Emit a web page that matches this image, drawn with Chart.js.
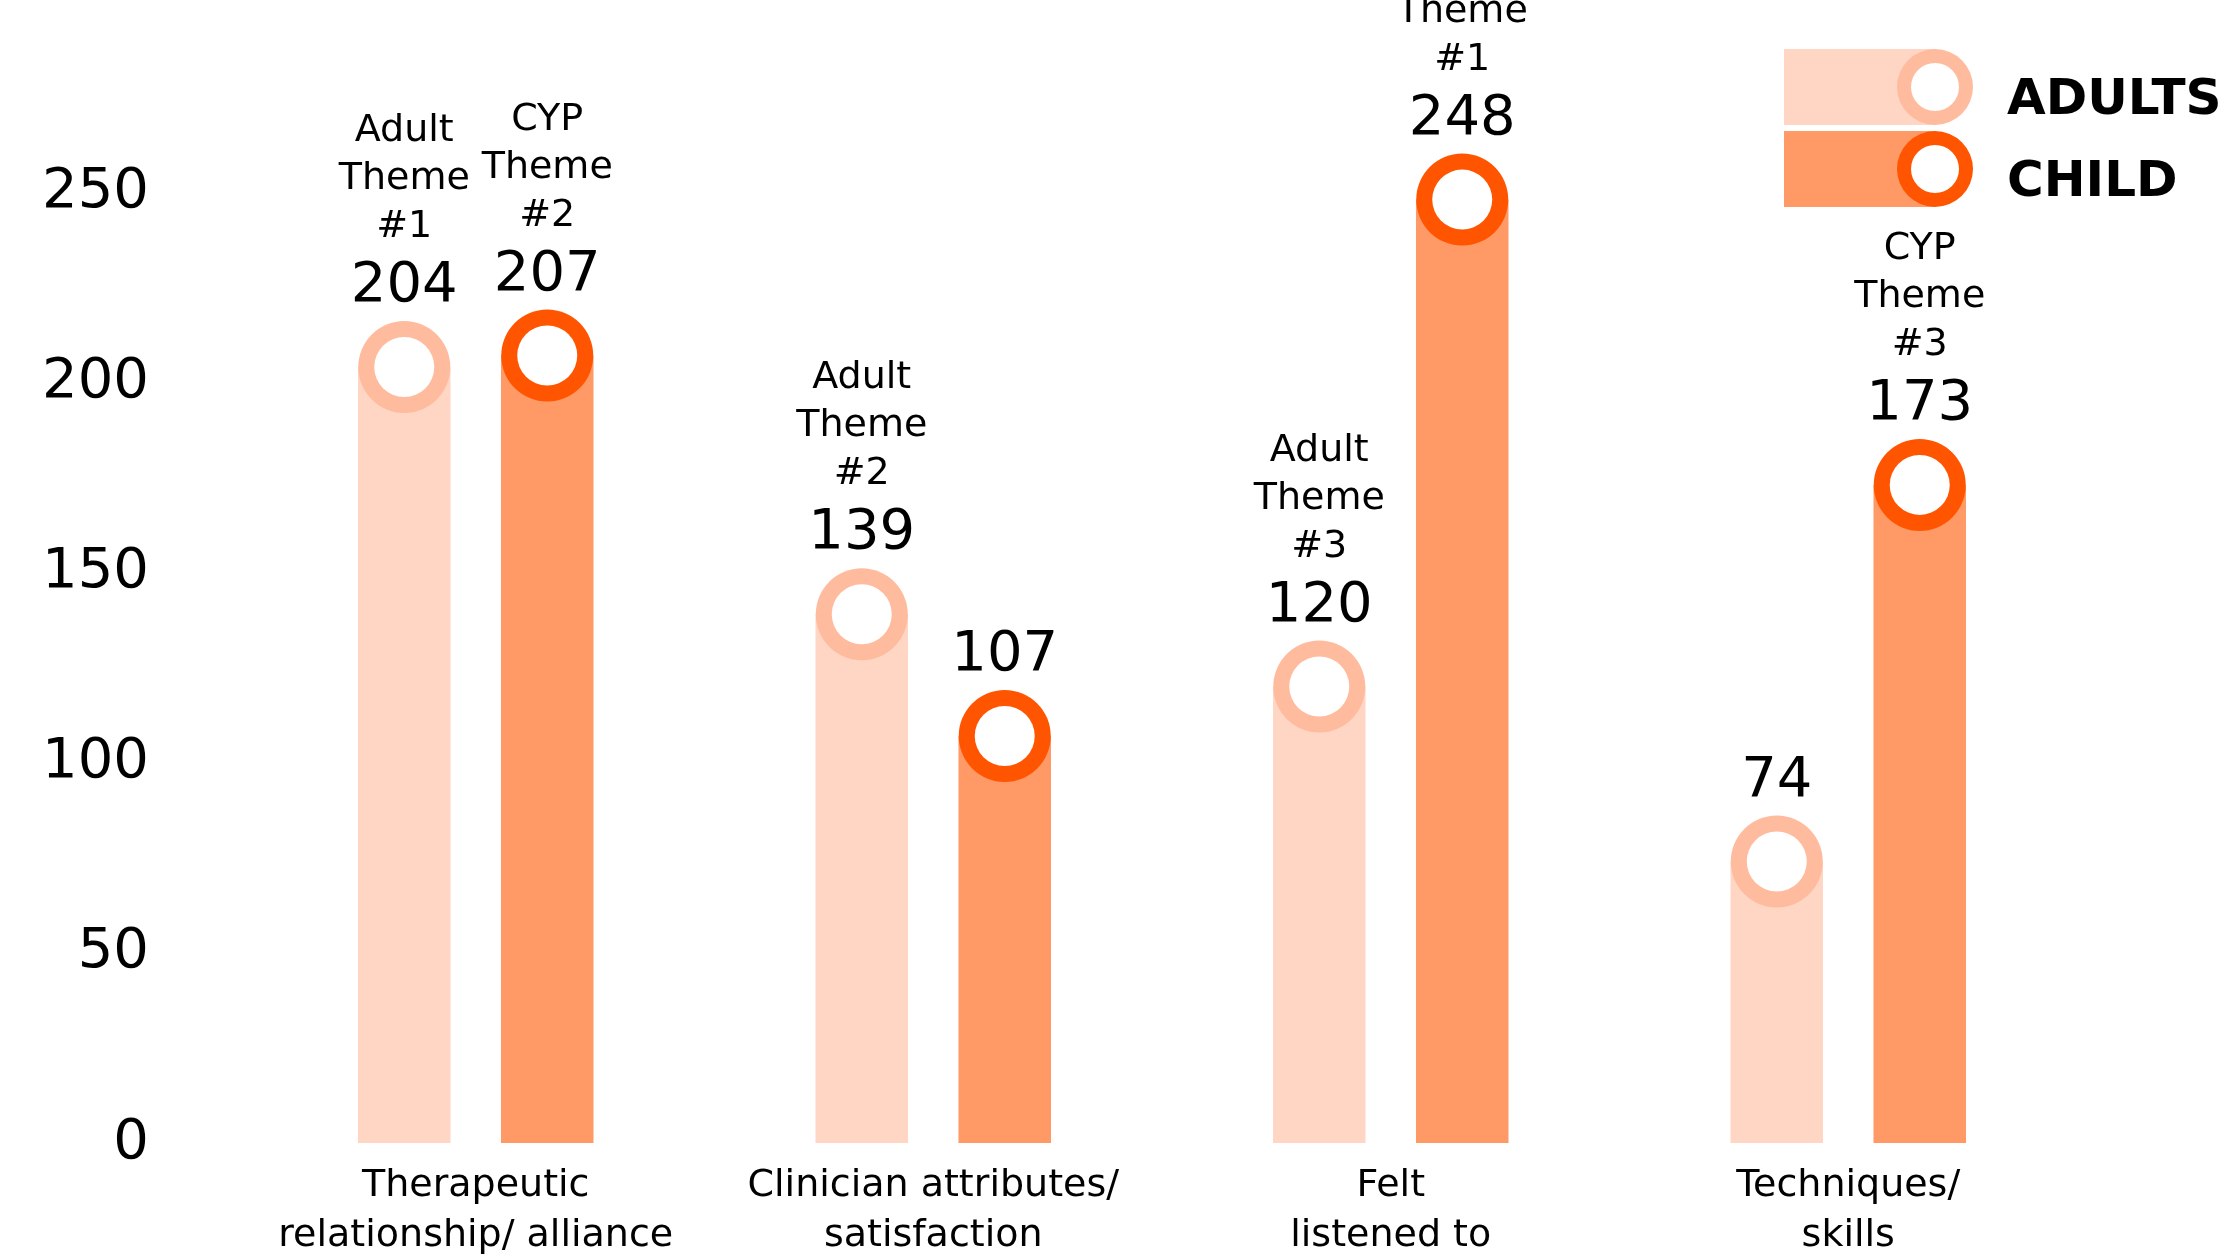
<!doctype html>
<html lang="en">
<head>
  <meta charset="utf-8">
  <title>Themes by group</title>
  <script src="https://cdn.jsdelivr.net/npm/chart.js"></script>
  <style>
    html, body { margin: 0; padding: 0; background: #fff; overflow: hidden; }
    #wrap { width: 100vw; height: 100vh; position: relative; }
  </style>
</head>
<body>

<div id="wrap">
  <canvas id="themeChart"></canvas>
</div>

<script>
  // categories and counts
  const categories = [
    ['Therapeutic', 'relationship/ alliance'],
    ['Clinician attributes/', 'satisfaction'],
    ['Felt', 'listened to'],
    ['Techniques/', 'skills']
  ];
  const adultCounts = [204, 139, 120, 74];
  const childCounts = [207, 107, 248, 173];

  // theme ranking shown above each bar (null = no rank label)
  const adultThemeRank = [1, 2, 3, null];
  const childThemeRank = [2, null, 1, 3];

  const yMax = 250;
  const yStep = 50;

  const FONT = '"DejaVu Sans", sans-serif';

  // ring marker + value + theme label on top of every bar
  const ringMarkers = {
    id: 'ringMarkers',
    afterDatasetsDraw(chart) {
      const ctx = chart.ctx;
      chart.data.datasets.forEach((ds, di) => {
        const meta = chart.getDatasetMeta(di);
        meta.data.forEach((bar, i) => {
          ctx.save();
          ctx.beginPath();
          ctx.arc(bar.x, bar.y, 46, 0, Math.PI * 2);
          ctx.fillStyle = ds.ringColor;
          ctx.fill();
          ctx.beginPath();
          ctx.arc(bar.x, bar.y, 30, 0, Math.PI * 2);
          ctx.fillStyle = '#ffffff';
          ctx.fill();

          ctx.fillStyle = '#000000';
          ctx.textAlign = 'center';
          ctx.textBaseline = 'alphabetic';
          ctx.font = '56px ' + FONT;
          const vy = bar.y - 66;
          ctx.fillText(String(ds.data[i]), bar.x, vy);

          const rank = ds.themeRank[i];
          if (rank) {
            const lines = [ds.themePrefix, 'Theme', '#' + rank];
            ctx.font = '38px ' + FONT;
            lines.forEach((t, k) => {
              ctx.fillText(t, bar.x, vy - 64 - (lines.length - 1 - k) * 48);
            });
          }
          ctx.restore();
        });
      });
    }
  };

  // legend: swatch bar ending in a ring, then bold label
  const ringLegend = {
    id: 'ringLegend',
    afterDraw(chart) {
      const ctx = chart.ctx;
      const rows = [87, 169];
      chart.data.datasets.forEach((ds, di) => {
        const cy = rows[di];
        const cx = 1935;
        ctx.save();
        ctx.fillStyle = ds.backgroundColor;
        ctx.fillRect(1784, cy - 38, cx - 1784, 76);
        ctx.beginPath();
        ctx.arc(cx, cy, 38, 0, Math.PI * 2);
        ctx.fillStyle = ds.ringColor;
        ctx.fill();
        ctx.beginPath();
        ctx.arc(cx, cy, 24, 0, Math.PI * 2);
        ctx.fillStyle = '#ffffff';
        ctx.fill();
        ctx.fillStyle = '#000000';
        ctx.font = 'bold 50px ' + FONT;
        ctx.textAlign = 'left';
        ctx.textBaseline = 'alphabetic';
        ctx.fillText(ds.label, 2007, cy + 27);
        ctx.restore();
      });
    }
  };

  const data = {
    labels: categories,
    datasets: [
      {
        label: 'ADULTS',
        data: adultCounts,
        backgroundColor: '#ffd5c4',
        ringColor: '#ffbb9d',
        themePrefix: 'Adult',
        themeRank: adultThemeRank
      },
      {
        label: 'CHILD',
        data: childCounts,
        backgroundColor: '#ff9966',
        ringColor: '#ff5500',
        themePrefix: 'CYP',
        themeRank: childThemeRank
      }
    ]
  };

  const config = {
    type: 'bar',
    data: data,
    options: {
      responsive: true,
      maintainAspectRatio: false,
      animation: false,
      categoryPercentage: 0.625,
      barPercentage: 0.647,
      layout: {
        padding: { top: 192, right: 155, bottom: 0, left: 0 }
      },
      scales: {
        x: {
          grid: { display: false },
          border: { display: false },
          ticks: {
            color: '#000',
            padding: 10,
            maxRotation: 0,
            autoSkip: false,
            font: { family: FONT, size: 38, lineHeight: 1.32 }
          },
          afterFit(scale) { scale.height = 115; }
        },
        y: {
          min: 0,
          max: yMax,
          grid: { display: false },
          border: { display: false },
          ticks: {
            stepSize: yStep,
            color: '#000',
            padding: 90,
            // small line height keeps the axis end padding below the x-axis height
            font: { family: FONT, size: 56, lineHeight: 0.8 }
          },
          afterFit(scale) { scale.width = 247; }
        }
      },
      plugins: {
        legend: { display: false },
        tooltip: { enabled: false }
      }
    },
    plugins: [ringMarkers, ringLegend]
  };

  window.onload = function () {
    const ctx = document.getElementById('themeChart').getContext('2d');
    new Chart(ctx, config);
  };
</script>
</body>
</html>
